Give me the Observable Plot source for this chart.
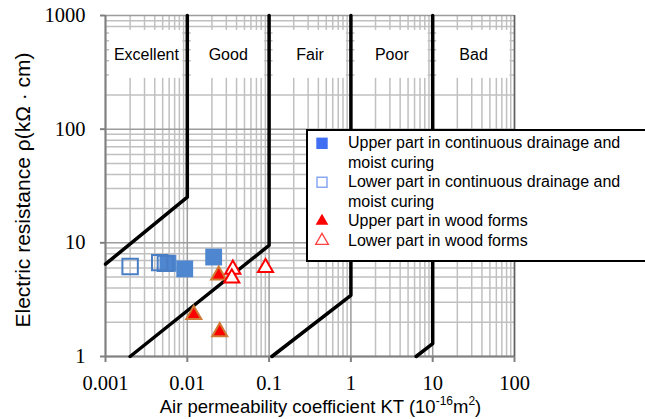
<!DOCTYPE html>
<html>
<head>
<meta charset="utf-8">
<script src="https://cdn.jsdelivr.net/npm/d3@7"></script>
<script src="https://cdn.jsdelivr.net/npm/@observablehq/plot@0.6"></script>
<style>
  html, body { margin: 0; padding: 0; background: white; }
  #chart { width: 645px; height: 419px; position: relative; }
  .fontwarm { position: absolute; left: 0; top: 0; visibility: hidden; font-family: 'Liberation Serif'; font-size: 20px; }
  svg text.serif-label { font-family: 'Liberation Serif', 'Times New Roman', serif !important; }
</style>
</head>
<body>
<span class="fontwarm">0.001 0.01 0.1 1 10 100 1000</span>
<div id="chart"></div>
<script>
// ---- data ----
const xTicks = [0.001, 0.01, 0.1, 1, 10, 100];
const xTickLabels = ["0.001", "0.01", "0.1", "1", "10", "100"];
const yTicks = [1, 10, 100, 1000];
const yTickLabels = ["1", "10", "100", "1000"];
const minorMultipliers = [2, 3, 4, 5, 6, 7, 8, 9];

const zoneNames = ["Excellent", "Good", "Fair", "Poor", "Bad"];
const zoneFrom = [0.001, 0.01, 0.1, 1, 10];
const zoneTo = [0.01, 0.1, 1, 10, 100];

// boundary polylines [KT, rho]
const boundary1 = [[0.001, 6.5], [0.01, 25.2], [0.01, 1000]];
const boundary2 = [[0.002, 1], [0.1, 9.5], [0.1, 1000]];
const boundary3 = [[0.108, 1], [1, 3.45], [1, 1000]];
const boundary4 = [[6.27, 1], [10, 1.3], [10, 1000]];

// series
const upperDrainKT = [0.0058, 0.0093, 0.021];
const upperDrainRho = [6.6, 5.9, 7.5];
const lowerDrainKT = [0.002, 0.0046, 0.0054];
const lowerDrainRho = [6.2, 6.7, 6.6];
const upperWoodKT = [0.0242, 0.012, 0.0249];
const upperWoodRho = [5.2, 2.33, 1.65];
const lowerWoodKT = [0.036, 0.035, 0.0905];
const lowerWoodRho = [5.85, 4.9, 6.05];

const legendLabels = [
  ["Upper part in continuous drainage and", "moist curing"],
  ["Lower part in continuous drainage and", "moist curing"],
  ["Upper part in wood forms"],
  ["Lower part in wood forms"]
];

// ---- derived tables ----
const decadesX = xTicks.slice(0, -1);
const decadesY = yTicks.slice(0, -1);
const xMinor = decadesX.flatMap(d => minorMultipliers.map(m => d * m));
const yMinor = decadesY.flatMap(d => minorMultipliers.map(m => d * m));
const zones = zoneNames.map((name, i) => ({name, from: zoneFrom[i], to: zoneTo[i]}));
const pts = (xs, ys) => xs.map((x, i) => ({x, y: ys[i]}));

const serif = "Liberation Serif";
const sans = "Liberation Sans";

const plot = Plot.plot({
  width: 645,
  height: 419,
  marginLeft: 105,
  marginRight: 131,
  marginTop: 15,
  marginBottom: 63,
  style: {background: "white", overflow: "visible"},
  x: {type: "log", domain: [0.001, 100]},
  y: {type: "log", domain: [1, 1000]},
  marks: [
    Plot.ruleX(xMinor, {stroke: "#c0c0c0", strokeWidth: 1.5}),
    Plot.ruleY(yMinor, {stroke: "#c0c0c0", strokeWidth: 1.5}),
    Plot.ruleX(xTicks, {stroke: "#9c9c9c", strokeWidth: 1.5}),
    Plot.ruleY(yTicks, {stroke: "#9c9c9c", strokeWidth: 1.5}),
    Plot.rect(zones, {x1: d => d.from * 1.12, x2: d => d.to * 0.88, y1: () => 280, y2: () => 740, fill: "white"}),
    Plot.text(zones, {x: d => Math.sqrt(d.from * d.to), y: () => 450, text: "name", fontSize: 16, fontFamily: sans, fill: "black"}),
    Plot.ruleX([0.001], {stroke: "#808080", strokeWidth: 2}),
    Plot.ruleY([1], {stroke: "#808080", strokeWidth: 2}),
    Plot.ruleX([100], {stroke: "#606060", strokeWidth: 1.5}),
    Plot.line(boundary1, {x: d => d[0], y: d => d[1], stroke: "black", strokeWidth: 3.5}),
    Plot.line(boundary2, {x: d => d[0], y: d => d[1], stroke: "black", strokeWidth: 3.5}),
    Plot.line(boundary3, {x: d => d[0], y: d => d[1], stroke: "black", strokeWidth: 3.5}),
    Plot.line(boundary4, {x: d => d[0], y: d => d[1], stroke: "black", strokeWidth: 3.5}),
    Plot.dot(pts(upperDrainKT, upperDrainRho), {x: "x", y: "y", symbol: "square", r: 9.5, fill: "#4f86d0", stroke: "none"}),
    Plot.dot(pts(lowerDrainKT, lowerDrainRho), {x: "x", y: "y", symbol: "square", r: 8.7, fill: "none", stroke: "#4a7ec4", strokeWidth: 2}),
    Plot.dot(pts(upperWoodKT, upperWoodRho), {x: "x", y: "y", symbol: "triangle", r: 5.6, fill: "#ff0000", stroke: "#d07a35", strokeWidth: 2}),
    Plot.dot(pts(lowerWoodKT, lowerWoodRho), {x: "x", y: "y", symbol: "triangle", r: 5.6, fill: "white", stroke: "#ff0000", strokeWidth: 2}),
    Plot.axisX({ticks: xTicks, tickFormat: () => "", tickSize: 6, stroke: "#808080", strokeWidth: 2, label: null}),
    Plot.axisY({ticks: yTicks, tickFormat: () => "", tickSize: 5, stroke: "#808080", strokeWidth: 2, label: null}),
    Plot.text(xTicks, {x: d => d, y: () => 1, dy: 27, text: (d, i) => xTickLabels[i], fontFamily: serif, fontSize: 20.5, fill: "black", textAnchor: "middle"}),
    Plot.text(yTicks, {x: () => 0.001, y: d => d, dx: -20, text: (d, i) => yTickLabels[i], fontFamily: serif, fontSize: 20.5, fill: "black", textAnchor: "end"})
  ]
});

const svg = d3.select(plot);

// force serif on tick labels
svg.selectAll("text").each(function () {
  const g = this.closest("g");
  if (g && g.getAttribute("font-family") === serif) {
    this.classList.add("serif-label");
    this.style.fontFamily = "'Liberation Serif', 'Times New Roman', serif";
  }
});

// axis titles
const xt = svg.append("text")
  .attr("x", 320.5).attr("y", 412.5)
  .attr("text-anchor", "middle")
  .style("font-family", sans).style("font-size", "18.5px").attr("fill", "black");
xt.append("tspan").text("Air permeability coefficient KT (10");
xt.append("tspan").style("font-size", "12px").attr("dy", -8).text("-16");
xt.append("tspan").attr("dy", 8).text("m");
xt.append("tspan").style("font-size", "12px").attr("dy", -8).text("2");
xt.append("tspan").attr("dy", 8).text(")");

svg.append("text")
  .attr("transform", "translate(30,190) rotate(-90)")
  .attr("text-anchor", "middle")
  .style("font-family", sans).style("font-size", "21px").attr("fill", "black")
  .text("Electric resistance ρ(kΩ · cm)");

// legend
const lg = svg.append("g");
lg.append("rect").attr("x", 307).attr("y", 130).attr("width", 345).attr("height", 131)
  .attr("fill", "white").attr("stroke", "black").attr("stroke-width", 2);
const rowBase = [148.3, 187.3, 226, 246];
const symY = [143.3, 182.3, 221, 240.7];
const symStyles = [
  {type: d3.symbolSquare, size: 130, fill: "#3f6ef2", stroke: "none", sw: 0},
  {type: d3.symbolSquare, size: 100, fill: "white", stroke: "#8aa8f2", sw: 1.5},
  {type: d3.symbolTriangle, size: 70, fill: "#ff0000", stroke: "none", sw: 0},
  {type: d3.symbolTriangle, size: 70, fill: "white", stroke: "#ff4040", sw: 1.3}
];
legendLabels.forEach((lines, i) => {
  const s = symStyles[i];
  lg.append("path").attr("d", d3.symbol(s.type, s.size)())
    .attr("transform", `translate(322,${symY[i]})`)
    .attr("fill", s.fill).attr("stroke", s.stroke).attr("stroke-width", s.sw);
  lines.forEach((ln, j) => {
    lg.append("text").attr("x", 348).attr("y", rowBase[i] + j * 19.5)
      .attr("text-anchor", "start")
      .style("font-family", sans).style("font-size", "16px").attr("fill", "black").text(ln);
  });
});

document.getElementById("chart").appendChild(plot);
</script>
</body>
</html>
